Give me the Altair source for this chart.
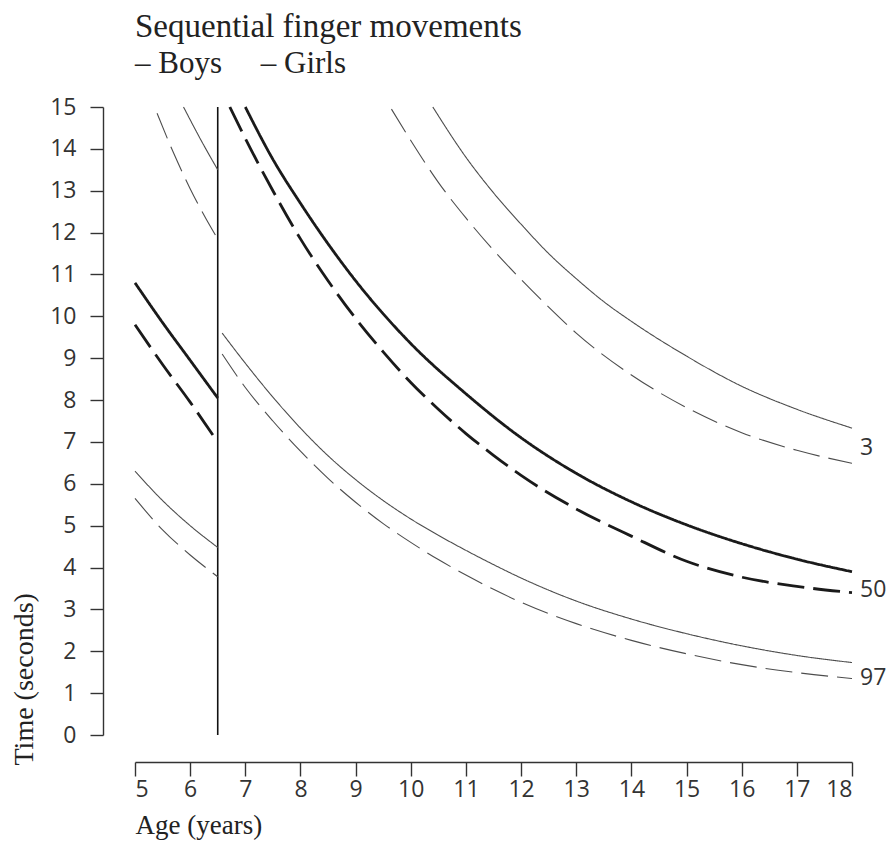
import altair as alt
import pandas as pd

# ---- data (age in years, time in seconds) ----
# Segment 1: ages 5 to 6.5
b3_1_age = [5.88, 6.2, 6.5]
b3_1_val = [15.0, 14.2, 13.5]
g3_1_age = [5.4, 5.7, 6.0, 6.3, 6.5]
g3_1_val = [14.85, 13.9, 13.05, 12.3, 11.85]
b50_1_age = [5.0, 5.5, 6.0, 6.5]
b50_1_val = [10.8, 9.85, 8.95, 8.05]
g50_1_age = [5.0, 5.5, 6.0, 6.42]
g50_1_val = [9.8, 8.85, 7.95, 7.15]
b97_1_age = [5.0, 5.5, 6.0, 6.5]
b97_1_val = [6.3, 5.6, 5.0, 4.48]
g97_1_age = [5.0, 5.5, 6.0, 6.5]
g97_1_val = [5.65, 4.9, 4.3, 3.78]

# Segment 2: ages 6.5 to 18
b3_2_age = [10.4, 11, 11.5, 12, 12.5, 13, 13.5, 14, 15, 16, 17, 18]
b3_2_val = [15.0, 13.8, 12.95, 12.2, 11.5, 10.9, 10.35, 9.88, 9.05, 8.33, 7.78, 7.33]
g3_2_age = [9.65, 10, 10.5, 11, 11.5, 12, 12.5, 13, 14, 15, 16, 17, 18]
g3_2_val = [14.95, 14.2, 13.2, 12.35, 11.58, 10.88, 10.22, 9.6, 8.6, 7.82, 7.22, 6.8, 6.49]
b50_2_age = [7.0, 7.5, 8, 9, 10, 11, 12, 13, 14, 15, 16, 17, 18]
b50_2_val = [15.0, 13.75, 12.7, 10.85, 9.35, 8.15, 7.1, 6.25, 5.57, 5.02, 4.57, 4.2, 3.9]
g50_2_age = [6.72, 7, 7.5, 8, 8.5, 9, 9.5, 10, 10.5, 11, 11.5, 12, 13, 14, 15, 16, 17, 18]
g50_2_val = [15.0, 14.25, 13.0, 11.85, 10.85, 9.95, 9.15, 8.42, 7.78, 7.2, 6.68, 6.2, 5.4, 4.75, 4.15, 3.77, 3.55, 3.4]
b97_2_age = [6.58, 7, 7.5, 8, 8.5, 9, 9.5, 10, 10.5, 11, 11.5, 12, 13, 14, 15, 16, 17, 18]
b97_2_val = [9.6, 8.88, 8.07, 7.33, 6.67, 6.1, 5.6, 5.16, 4.77, 4.41, 4.07, 3.75, 3.2, 2.77, 2.42, 2.13, 1.9, 1.73]
g97_2_age = [6.58, 7, 7.5, 8, 8.5, 9, 9.5, 10, 10.5, 11, 11.5, 12, 13, 14, 15, 16, 17, 18]
g97_2_val = [9.1, 8.3, 7.5, 6.78, 6.13, 5.56, 5.05, 4.6, 4.19, 3.82, 3.48, 3.17, 2.66, 2.26, 1.94, 1.68, 1.49, 1.35]

# percentile labels at the right end
pct_labels = ["3", "50", "97"]
pct_label_y = [6.85, 3.47, 1.36]

# vertical divider at 6.5 years
divider_age = [6.5]
divider_lo = [0]
divider_hi = [15]

x_ticks = list(range(5, 19))
y_ticks = list(range(0, 16))

series = [
    ("Boys", "3", 1, b3_1_age, b3_1_val), ("Girls", "3", 1, g3_1_age, g3_1_val),
    ("Boys", "50", 1, b50_1_age, b50_1_val), ("Girls", "50", 1, g50_1_age, g50_1_val),
    ("Boys", "97", 1, b97_1_age, b97_1_val), ("Girls", "97", 1, g97_1_age, g97_1_val),
    ("Boys", "3", 2, b3_2_age, b3_2_val), ("Girls", "3", 2, g3_2_age, g3_2_val),
    ("Boys", "50", 2, b50_2_age, b50_2_val), ("Girls", "50", 2, g50_2_age, g50_2_val),
    ("Boys", "97", 2, b97_2_age, b97_2_val), ("Girls", "97", 2, g97_2_age, g97_2_val),
]
width_by_pct = {"3": 1.1, "50": 2.8, "97": 1.1}
color_by_pct = {"3": "#4d4d4d", "50": "#1a1a1a", "97": "#4d4d4d"}
rows = []
for sex, pct, seg, ages, vals in series:
    for a, v in zip(ages, vals):
        rows.append({"age": a, "value": v, "sex": sex, "pct": pct,
                     "sw": width_by_pct[pct], "col": color_by_pct[pct],
                     "series": f"{sex}-{pct}-{seg}"})
df = pd.DataFrame(rows)

lab_df = pd.DataFrame({"age": [18] * 3, "value": pct_label_y, "label": pct_labels})
div_df = pd.DataFrame({"age": divider_age, "lo": divider_lo, "hi": divider_hi})

xscale = alt.Scale(domain=[5, 18], nice=False, zero=False)
yscale = alt.Scale(domain=[0, 15], nice=False, zero=False)

xaxis = alt.Axis(
    values=x_ticks, offset=27, tickSize=14, tickWidth=1.4, tickColor="#333",
    domainColor="#333", domainWidth=1.4, labelFont="Open Sans", labelFontSize=23,
    labelColor="#333", labelPadding=2, title="Age (years)", titleFont="Liberation Serif",
    titleFontSize=27, titleFontWeight="normal", titleColor="#222",
    titleX=0, titleY=63, titleAlign="left", titleBaseline="middle", grid=False,
)
yaxis = alt.Axis(
    values=y_ticks, offset=32, tickSize=13, tickWidth=1.4, tickColor="#333",
    domainColor="#333", domainWidth=1.4, labelFont="Open Sans", labelFontSize=23,
    labelColor="#333", labelPadding=14, title="Time (seconds)", titleFont="Liberation Serif",
    titleFontSize=28, titleFontWeight="normal", titleColor="#222",
    titleX=-79, titleY=658, titleAngle=270, titleAlign="left", titleBaseline="middle",
    grid=False,
)

lines = alt.Chart(df).mark_line(interpolate="monotone", strokeCap="butt").encode(
    x=alt.X("age:Q", scale=xscale, axis=xaxis),
    y=alt.Y("value:Q", scale=yscale, axis=yaxis),
    detail="series:N",
    strokeDash=alt.StrokeDash("sex:N", scale=alt.Scale(domain=["Boys", "Girls"],
                                                       range=[[1, 0], [27, 9]]), legend=None),
    strokeWidth=alt.StrokeWidth("sw:Q", scale=None),
    color=alt.Color("col:N", scale=None),
    order="age:Q",
)

divider = alt.Chart(div_df).mark_rule(color="#111", strokeWidth=1.6).encode(
    x=alt.X("age:Q", scale=xscale),
    y=alt.Y("lo:Q", scale=yscale),
    y2="hi:Q",
)

labels = alt.Chart(lab_df).mark_text(
    align="left", baseline="middle", dx=8, font="Open Sans", fontSize=23, color="#333"
).encode(
    x=alt.X("age:Q", scale=xscale),
    y=alt.Y("value:Q", scale=yscale),
    text="label:N",
)

chart = alt.layer(divider, lines, labels).properties(
    width=717, height=628,
    autosize=alt.AutoSizeParams(type="none"),
    padding={"left": 127, "top": 99, "right": 34, "bottom": 106},
    title=alt.Title(
        "Sequential finger movements",
        subtitle="\u2013\u00a0Boys\u00a0\u00a0\u00a0\u00a0\u00a0\u2013\u00a0Girls",
        anchor="start", frame="group",
        font="Liberation Serif", fontSize=33, fontWeight="normal", color="#222",
        subtitleFont="Liberation Serif", subtitleFontSize=31, subtitleColor="#222",
        subtitlePadding=5, offset=17,
    ),
).configure_view(stroke=None)

chart.save("out.html", embed_options={"renderer": "svg", "actions": False})
